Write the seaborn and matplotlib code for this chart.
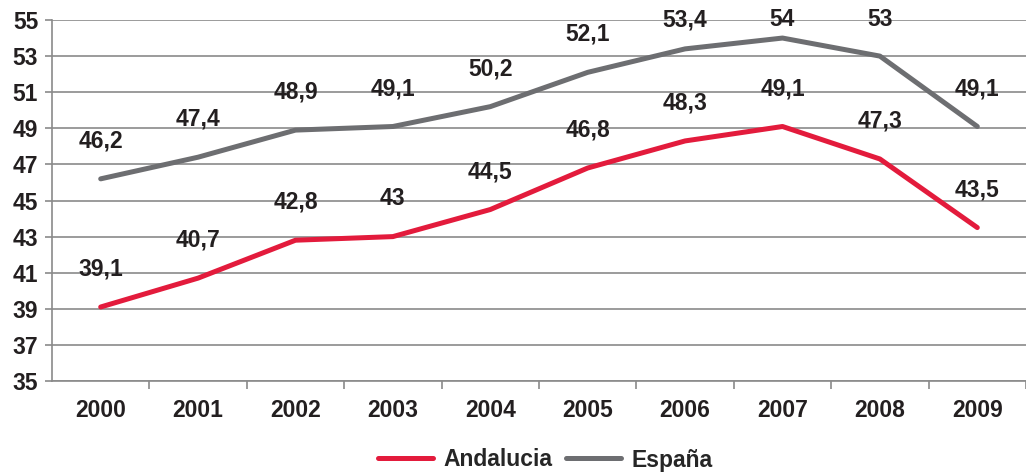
import numpy as np
import pandas as pd
import matplotlib
matplotlib.use("Agg")
import matplotlib.pyplot as plt
import seaborn as sns

# data
years = ["2000", "2001", "2002", "2003", "2004", "2005", "2006", "2007", "2008", "2009"]
andalucia = [39.1, 40.7, 42.8, 43.0, 44.5, 46.8, 48.3, 49.1, 47.3, 43.5]
espana = [46.2, 47.4, 48.9, 49.1, 50.2, 52.1, 53.4, 54.0, 53.0, 49.1]
series_names = ["Andalucia", "España"]
colors = ["#e31b3c", "#6d6e71"]

df = pd.DataFrame({
    "Year": years * 2,
    "Value": andalucia + espana,
    "Serie": [series_names[0]] * len(years) + [series_names[1]] * len(years),
})

sns.set_theme(style="white")
plt.rcParams["font.family"] = ["Liberation Sans", "DejaVu Sans"]
plt.rcParams["font.weight"] = "bold"

FS = 16.5
TXT = "#231f20"
GRID = "#8a8a8a"

fig = plt.figure(figsize=(10.26, 4.72), dpi=100)
ax = fig.add_axes([52 / 1026, 1 - 381 / 472, 1 - 52 / 1026, 361 / 472])

sns.lineplot(data=df, x="Year", y="Value", hue="Serie", palette=colors,
             linewidth=3.6, ax=ax, sort=False, legend=True)

ax.set_ylim(35, 55)
ax.set_xlim(-0.5, 9.36)
ax.set_yticks(np.arange(35, 56, 2))
ax.yaxis.grid(True, color=GRID, linewidth=1.2)
ax.xaxis.grid(False)
ax.set_axisbelow(True)
for s in ["top", "right"]:
    ax.spines[s].set_visible(False)
for s in ["left", "bottom"]:
    ax.spines[s].set_color(GRID)
    ax.spines[s].set_linewidth(1.2)

ax.set_xticks(np.arange(len(years)))
ax.set_xticklabels(years)
ax.set_xticks(np.arange(len(years)) + 0.5, minor=True)
ax.tick_params(axis="x", which="major", length=0, pad=13, labelsize=FS, colors=TXT)
ax.tick_params(axis="x", which="minor", bottom=True, length=6, width=1.2, color=GRID)
ax.tick_params(axis="y", left=True, length=5, width=1.2, color=GRID,
               labelsize=FS, labelcolor=TXT, pad=5)
for lab in ax.get_xticklabels() + ax.get_yticklabels():
    lab.set_fontweight("bold")
ax.set_xlabel("")
ax.set_ylabel("")

def fmt(v):
    s = f"{v:.1f}".replace(".", ",")
    return s[:-2] if s.endswith(",0") else s

for vals in [andalucia, espana]:
    for i, v in enumerate(vals):
        ax.text(i, min(v + 2.1, 55), fmt(v), ha="center", va="center",
                fontsize=FS, fontweight="bold", color=TXT, clip_on=False)

handles, labels = ax.get_legend_handles_labels()
ax.legend(handles, labels, loc="center", bbox_to_anchor=(545 / 1026, 1 - 460 / 472),
          bbox_transform=fig.transFigure, ncol=2, frameon=False,
          handlelength=2.4, handletextpad=0.45, columnspacing=0.6,
          prop={"size": FS, "weight": "bold"})

plt.savefig("out.png", dpi=100)
